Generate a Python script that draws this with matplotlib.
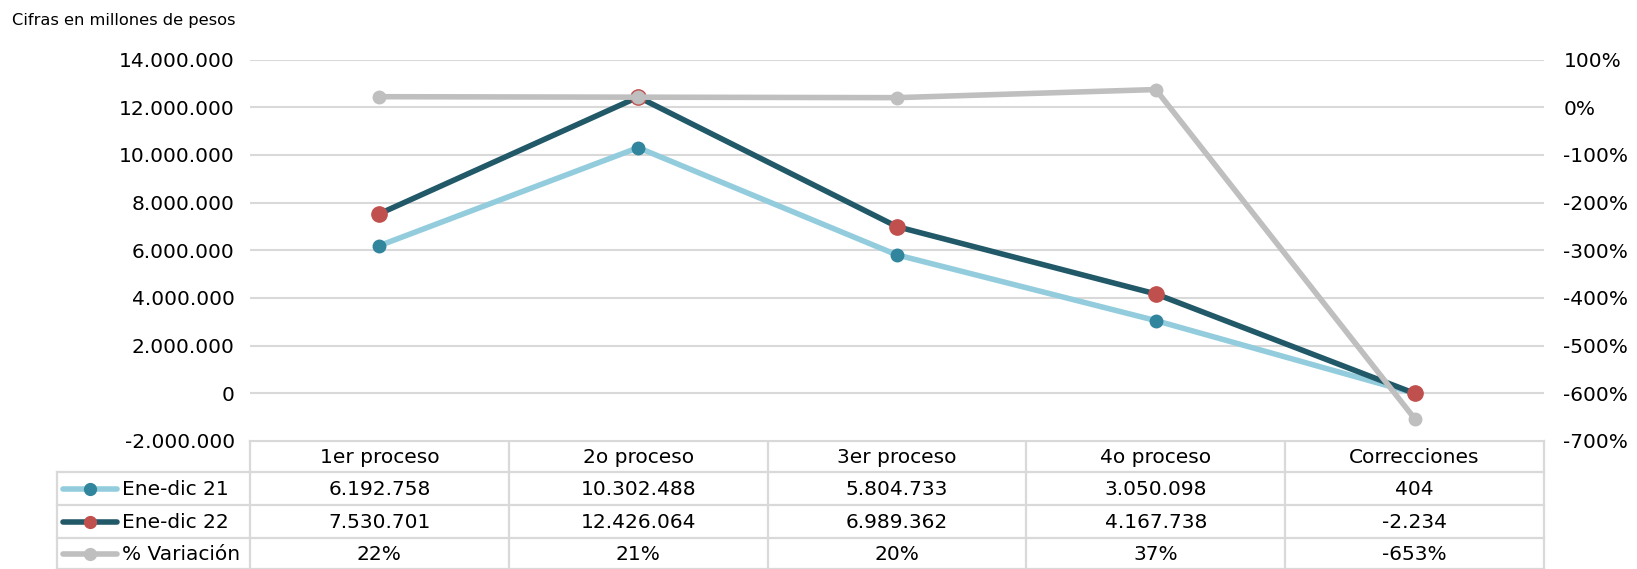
import matplotlib
matplotlib.use("Agg")
import matplotlib.pyplot as plt
from matplotlib.ticker import FuncFormatter
from matplotlib.lines import Line2D

# Datos
categorias = ["1er proceso", "2o proceso", "3er proceso", "4o proceso", "Correcciones"]
ene_dic_21 = [6192758, 10302488, 5804733, 3050098, 404]
ene_dic_22 = [7530701, 12426064, 6989362, 4167738, -2234]
variacion = [0.22, 0.21, 0.20, 0.37, -6.53]
series_nombres = ["Ene-dic 21", "Ene-dic 22", "% Variación"]

# Colores
c_claro = "#93CDDD"
c_claro_m = "#31859C"
c_oscuro = "#215968"
c_oscuro_m = "#C0504D"
c_gris = "#BFBFBF"
c_grid = "#D9D9D9"

fs = 14.5
W, H = 1637, 569
fig = plt.figure(figsize=(W / 100, H / 100), dpi=100)

# area del grafico (pixeles)
x0, x1 = 250, 1544
y_top, y_bot = 59.5, 441
ax = fig.add_axes([x0 / W, 1 - y_bot / H, (x1 - x0) / W, (y_bot - y_top) / H])

def miles(v, pos=None):
    return f"{int(v):,}".replace(",", ".")

xs = list(range(len(categorias)))
ax.plot(xs, ene_dic_21, color=c_claro, lw=4, marker="o", ms=9,
        mfc=c_claro_m, mec=c_claro_m, zorder=3, solid_capstyle="round")
ax.plot(xs, ene_dic_22, color=c_oscuro, lw=4, marker="o", ms=11,
        mfc=c_oscuro_m, mec=c_oscuro_m, zorder=4, solid_capstyle="round")
ax.set_xlim(-0.5, len(categorias) - 0.5)
ax.set_ylim(-2000000, 14000000)
ax.set_yticks(range(-2000000, 14000001, 2000000))
ax.yaxis.set_major_formatter(FuncFormatter(miles))
ax.set_xticks([])
ax.grid(axis="y", color=c_grid, lw=1.5)
ax.set_axisbelow(True)
for s in ax.spines.values():
    s.set_visible(False)
ax.tick_params(axis="y", length=0, labelsize=fs, pad=11, colors="#000000")

ax2 = ax.twinx()
ax2.plot(xs, variacion, color=c_gris, lw=4, marker="o", ms=9,
         mfc=c_gris, mec=c_gris, zorder=5, solid_capstyle="round")
ax2.set_ylim(-7, 1)
ax2.set_yticks([i for i in range(-7, 2)])
ax2.yaxis.set_major_formatter(FuncFormatter(lambda v, p: f"{v * 100:.0f}%"))
for s in ax2.spines.values():
    s.set_visible(False)
ax2.tick_params(axis="y", length=0, labelsize=fs, pad=14)

fig.text(12 / W, 1 - 20 / H, "Cifras en millones de pesos", fontsize=11.7,
         va="center", ha="left")

# tabla de datos
ov = fig.add_axes([0, 0, 1, 1], zorder=-1)
ov.set_xlim(0, W)
ov.set_ylim(H, 0)
ov.axis("off")

lw_t = 1.6
filas = [441, 472, 505, 538, 569]
ncol = len(categorias)
cw = (x1 - x0) / ncol
leg_x = 57

ov.plot([x0, x1], [filas[0], filas[0]], color=c_grid, lw=lw_t)
for y in filas[1:]:
    ov.plot([leg_x, x1], [y, y], color=c_grid, lw=lw_t)
ov.plot([leg_x, leg_x], [filas[1], H], color=c_grid, lw=lw_t)
for i in range(ncol + 1):
    ov.plot([x0 + i * cw, x0 + i * cw], [filas[0], H], color=c_grid, lw=lw_t)

for i, cat in enumerate(categorias):
    ov.text(x0 + (i + 0.5) * cw, (filas[0] + filas[1]) / 2 + 1, cat,
            ha="center", va="center", fontsize=fs)

valores = [
    [miles(v) for v in ene_dic_21],
    [miles(v) for v in ene_dic_22],
    [f"{v * 100:.0f}%" for v in variacion],
]
estilos = [(c_claro, c_claro_m, 8.5), (c_oscuro, c_oscuro_m, 8.5), (c_gris, c_gris, 8.5)]
for r in range(3):
    yc = (filas[r + 1] + filas[r + 2]) / 2
    lc, mc, ms = estilos[r]
    ov.add_line(Line2D([63, 117], [yc, yc], color=lc, lw=4, solid_capstyle="round"))
    ov.plot([90], [yc], marker="o", ms=ms, color=mc)
    ov.text(122, yc + 1, series_nombres[r], ha="left", va="center", fontsize=fs)
    for i in range(ncol):
        ov.text(x0 + (i + 0.5) * cw, yc + 1, valores[r][i], ha="center",
                va="center", fontsize=fs)

fig.savefig("out.png", dpi=100)
